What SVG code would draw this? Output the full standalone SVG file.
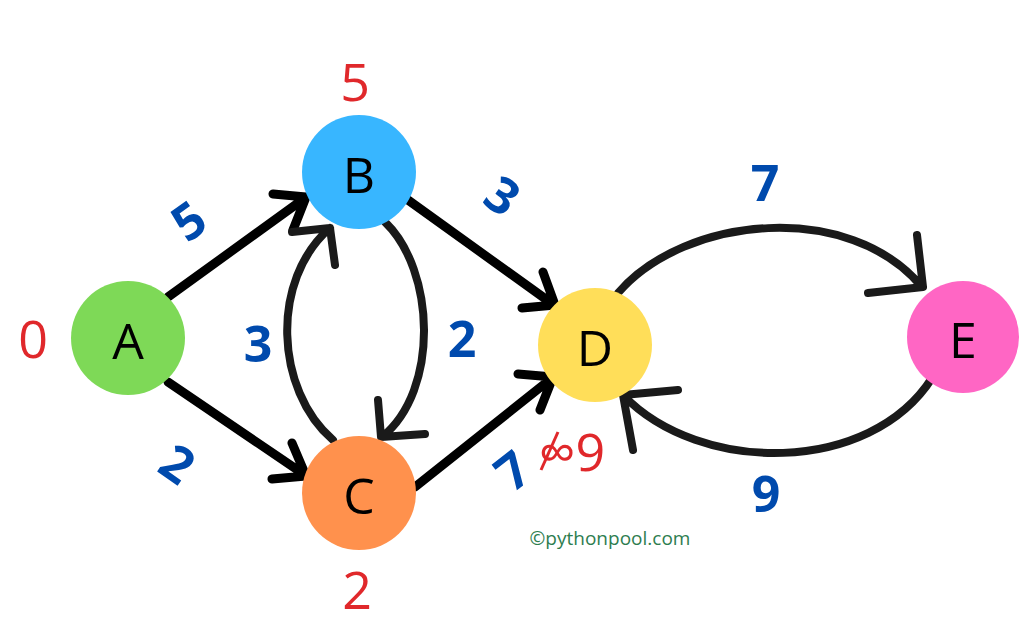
<svg xmlns="http://www.w3.org/2000/svg" width="1024" height="628" viewBox="0 0 1024 628">
<style>
.node text{font-family:"Open Sans","Noto Sans",sans-serif;font-size:50px;fill:#000;text-anchor:middle;dominant-baseline:central}
.edge{fill:none;stroke:#000;stroke-width:9;stroke-linecap:round;stroke-linejoin:round}
.curve{fill:none;stroke:#1a1a1a;stroke-width:8;stroke-linecap:round;stroke-linejoin:round}
.w{font-family:"Open Sans","Noto Sans",sans-serif;font-weight:bold;font-size:50px;fill:#004AAD;text-anchor:middle;dominant-baseline:central}
.d{font-family:"Open Sans","Noto Sans",sans-serif;font-size:52px;fill:#E0282B;text-anchor:middle;dominant-baseline:central}
</style>
<rect width="1024" height="628" fill="#fff"/>
<g id="connectors">
<path class="edge" d="M168,297 L305,198 M273,194 L306,197 L293,230"/>
<path class="edge" d="M168,382 L305,475 M272,479 L306,476 L292,443"/>
<path class="edge" d="M408,200 L554,305 M522,308 L555,305 L543,272"/>
<path class="edge" d="M415,487 L552,378 M518,374 L553,377 L540,410"/>
<path class="curve" d="M333,440 C275,390 270,280 330,228 M292,232 L330,228 L335,265"/>
<path class="curve" d="M385,222 C435,270 440,390 382,437 M378,400 L381,437 L425,434"/>
<path class="curve" d="M618,293 C685,215 850,200 922,287 M917,235 L923,287 L868,293"/>
<path class="curve" d="M932,378 C870,475 700,475 623,395 M678,390 L623,395 L633,450"/>
</g>
<g id="node-A" class="node"><circle cx="128" cy="338" r="57" fill="#7ED957"/><text x="128" y="340">A</text></g>
<g id="node-B" class="node"><circle cx="359" cy="172" r="57" fill="#38B6FF"/><text x="359" y="174">B</text></g>
<g id="node-C" class="node"><circle cx="359" cy="493" r="57" fill="#FF914D"/><text x="359" y="495">C</text></g>
<g id="node-D" class="node"><circle cx="595" cy="345" r="57" fill="#FFDE59"/><text x="595" y="347">D</text></g>
<g id="node-E" class="node"><circle cx="963" cy="337" r="56" fill="#FF66C4"/><text x="963" y="339">E</text></g>
<g id="weights">
<text class="w" transform="translate(188,220) rotate(-35)">5</text>
<text class="w" transform="translate(178,463) rotate(35)">2</text>
<text class="w" x="258" y="343">3</text>
<text class="w" x="462" y="338">2</text>
<text class="w" transform="translate(503,195) rotate(35)">3</text>
<text class="w" x="765" y="182">7</text>
<text class="w" x="766" y="493">9</text>
<text class="w" transform="translate(512,470) rotate(-38)">7</text>
</g>
<g id="distances">
<text class="d" x="355" y="80">5</text>
<text class="d" x="33" y="337">0</text>
<text class="d" x="357" y="588">2</text>
<text class="d" x="572" y="450">∞9</text>
<path d="M541,470 L558,432" stroke="#E0282B" stroke-width="3" fill="none"/>
</g>
<text x="610" y="538" font-family="'Open Sans','Noto Sans',sans-serif" font-size="19" fill="#2E7D4F" text-anchor="middle" dominant-baseline="central">©pythonpool.com</text>
</svg>
